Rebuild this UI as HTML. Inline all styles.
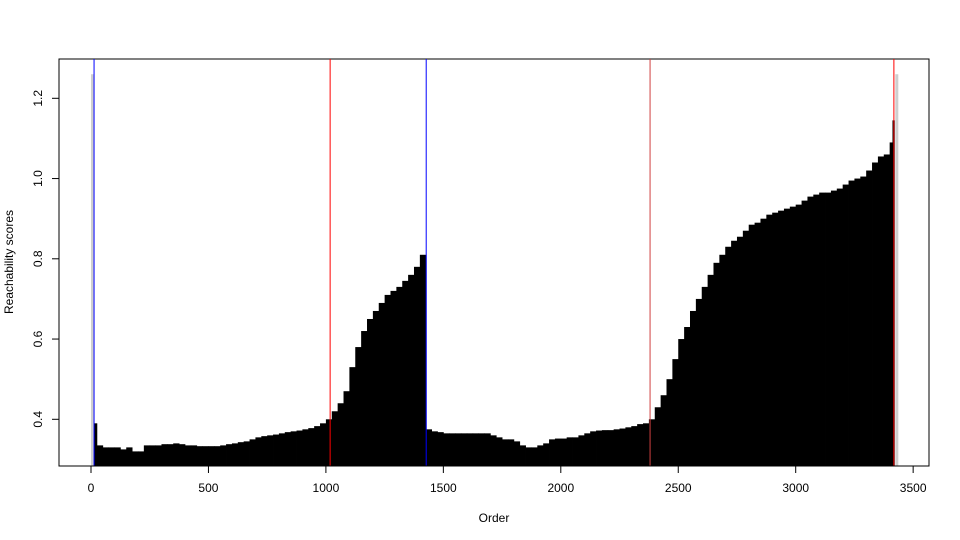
<!DOCTYPE html>
<html><head><meta charset="utf-8"><style>
body{margin:0;background:#fff}
svg{display:block;font-family:"Liberation Sans",sans-serif}
</style></head><body>
<svg id="c" width="960" height="540">
<rect x="59" y="59" width="870" height="407" fill="none" stroke="#000"/>
<g id="bars"></g><g id="lines"></g><g id="axes"></g>
<text x="494" y="522" font-size="12" text-anchor="middle">Order</text>
<text transform="translate(13,262) rotate(-90)" font-size="12" text-anchor="middle">Reachability scores</text>
</svg>
<script>
const binStart=[0,13,25,50,75,100,125,150,175,200,225,250,275,300,325,350,375,400,425,450,475,500,525,550,575,600,625,650,675,700,725,750,775,800,825,850,875,900,925,950,975,1000,1025,1050,1075,1100,1125,1150,1175,1200,1225,1250,1275,1300,1325,1350,1375,1400,1427,1450,1475,1500,1525,1550,1575,1600,1625,1650,1675,1700,1725,1750,1775,1800,1825,1850,1875,1900,1925,1950,1975,2000,2025,2050,2075,2100,2125,2150,2175,2200,2225,2250,2275,2300,2325,2350,2375,2400,2425,2450,2475,2500,2525,2550,2575,2600,2625,2650,2675,2700,2725,2750,2775,2800,2825,2850,2875,2900,2925,2950,2975,3000,3025,3050,3075,3100,3125,3150,3175,3200,3225,3250,3275,3300,3325,3350,3375,3400,3412];
const reach=[1.26,0.39,0.335,0.33,0.33,0.33,0.325,0.33,0.32,0.32,0.335,0.335,0.335,0.338,0.338,0.34,0.338,0.335,0.335,0.333,0.333,0.333,0.333,0.335,0.338,0.34,0.343,0.345,0.35,0.355,0.358,0.36,0.362,0.365,0.368,0.37,0.372,0.375,0.378,0.383,0.39,0.40,0.42,0.44,0.47,0.53,0.58,0.62,0.65,0.67,0.69,0.71,0.72,0.73,0.745,0.76,0.78,0.81,0.375,0.37,0.368,0.365,0.365,0.365,0.365,0.365,0.365,0.365,0.365,0.36,0.355,0.35,0.35,0.345,0.335,0.33,0.33,0.335,0.34,0.35,0.352,0.352,0.355,0.355,0.36,0.365,0.37,0.372,0.373,0.373,0.375,0.377,0.38,0.383,0.388,0.39,0.40,0.43,0.46,0.50,0.55,0.60,0.63,0.67,0.70,0.73,0.76,0.79,0.81,0.83,0.845,0.855,0.87,0.885,0.89,0.90,0.91,0.915,0.92,0.925,0.93,0.935,0.945,0.955,0.96,0.965,0.965,0.97,0.975,0.985,0.995,1.0,1.005,1.02,1.04,1.055,1.06,1.09,1.145];
const binEnd=3420;
const greyOrders=[0,3424];
const greyValue=1.26;
const vlineOrders=[13,1018,1427,2380,3418];
const vlineColors=["#0000ff","#ff0000","#0000ff","#d04040","#ff0000"];
const xTicks=[0,500,1000,1500,2000,2500,3000,3500];
const yTicks=[0.4,0.6,0.8,1.0,1.2];
const yTickLabels=["0.4","0.6","0.8","1.0","1.2"];
const NS="http://www.w3.org/2000/svg";
const xs=o=>91+o*0.2349;
const ys=v=>419.3-(v-0.4)*401.25;
const bottom=466;
function mk(t,a,p){const e=document.createElementNS(NS,t);for(const k in a)e.setAttribute(k,a[k]);p.appendChild(e);return e;}
const bars=document.getElementById('bars'),lines=document.getElementById('lines'),axes=document.getElementById('axes');
greyOrders.forEach(o=>{const r=mk('rect',{x:xs(o),y:ys(greyValue),width:3,height:bottom-ys(greyValue),fill:'#cfcfcf'},bars);

});
for(let i=1;i<binStart.length;i++){const x0=xs(binStart[i]),x1=xs(i+1<binStart.length?binStart[i+1]:binEnd);
const r=mk('rect',{x:x0,y:ys(reach[i]),width:x1-x0+0.4,height:bottom-ys(reach[i]),fill:'#000'},bars);

}
vlineOrders.forEach((o,i)=>{const l=mk('line',{x1:xs(o),x2:xs(o),y1:59,y2:466,stroke:vlineColors[i],'stroke-width':1},lines);

});
mk('line',{x1:xs(xTicks[0]),x2:xs(xTicks[xTicks.length-1]),y1:466,y2:466,stroke:'#000'},axes);
xTicks.forEach(t=>{mk('line',{x1:xs(t),x2:xs(t),y1:466,y2:473,stroke:'#000'},axes);
const tx=mk('text',{x:xs(t),y:492,'font-size':12,'text-anchor':'middle'},axes);tx.textContent=t;

});
mk('line',{x1:59,x2:59,y1:ys(yTicks[0]),y2:ys(yTicks[yTicks.length-1]),stroke:'#000'},axes);
yTicks.forEach((t,i)=>{mk('line',{x1:52,x2:59,y1:ys(t),y2:ys(t),stroke:'#000'},axes);
const tx=mk('text',{transform:`translate(42,${ys(t)}) rotate(-90)`,'font-size':12,'text-anchor':'middle'},axes);tx.textContent=yTickLabels[i];

});
</script>
</body></html>
